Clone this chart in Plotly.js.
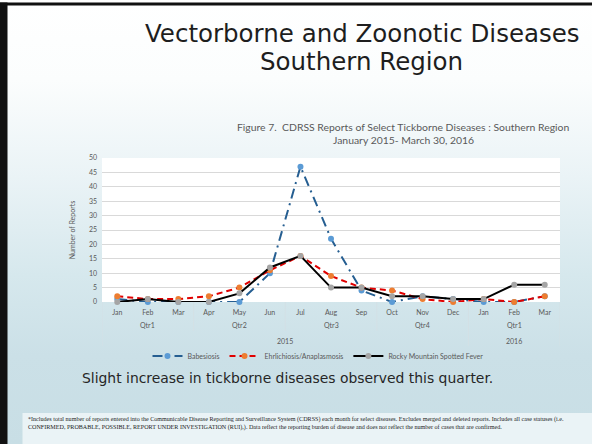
<!DOCTYPE html>
<html>
<head>
<meta charset="utf-8">
<script src="https://cdn.plot.ly/plotly-3.0.1.min.js"></script>
<style>
  html, body { margin: 0; padding: 0; }
  body {
    width: 592px; height: 444px; overflow: hidden;
    background: linear-gradient(to bottom, #ffffff 0%, #fbfdfd 18%, #eaf3f6 40%, #d6e8ed 62%, #cbe0e7 80%, #c8dee5 100%);
  }
  #chart { width: 592px; height: 444px; }
</style>
</head>
<body>
<div id="chart"></div>
<script>
// ---- data ----
const months = ['Jan','Feb','Mar','Apr','May','Jun','Jul','Aug','Sep','Oct','Nov','Dec','Jan','Feb','Mar'];
const quarters = ['Qtr1','Qtr2','Qtr3','Qtr4','Qtr1'];
const quarterStart = [0, 3, 6, 9, 12];
const years = ['2015','2016'];
const yearStart = [0, 12];
const yearEnd = [11, 14];
const babesiosis   = [1, 0, 0, 0, 0, 10, 47, 22, 4, 0, 2, 1, 0, 0, 2];
const ehrlichiosis = [2, 1, 1, 2, 5, 11, 16, 9, 5, 4, 1, 0, 1, 0, 2];
const rmsf         = [0, 1, 0, 0, 3, 12, 16, 5, 5, 2, 2, 1, 1, 6, 6];
const seriesNames = ['Babesiosis', 'Ehrlichiosis/Anaplasmosis', 'Rocky Mountain Spotted Fever'];
const yTicks = [0, 5, 10, 15, 20, 25, 30, 35, 40, 45, 50];

// ---- layout helpers (plot area in pixels) ----
const L = 102, R = 560, T = 158, B = 302;
const px = x => (x - L) / (R - L);
const py = y => (B - y) / (B - T);

const idx = months.map((_, i) => i);
const chartFont = 'Lato, sans-serif';

const traces = [
  {
    x: idx, y: babesiosis, name: seriesNames[0], type: 'scatter', mode: 'lines+markers',
    line: { color: '#255e91', width: 2, dash: '10px,5px,2px,5px' },
    marker: { color: '#5b9bd5', size: 6 }, cliponaxis: false
  },
  {
    x: idx, y: ehrlichiosis, name: seriesNames[1], type: 'scatter', mode: 'lines+markers',
    line: { color: '#e00000', width: 2, dash: '6px,4px' },
    marker: { color: '#ed7d31', size: 6 }, cliponaxis: false
  },
  {
    x: idx, y: rmsf, name: seriesNames[2], type: 'scatter', mode: 'lines+markers',
    line: { color: '#000000', width: 2 },
    marker: { color: '#a5a5a5', size: 6 }, cliponaxis: false
  }
];

const shapes = [];
const annotations = [];
const divColor = '#d3e0e5';

// quarter dividers
const qBounds = quarterStart.map(s => s - 0.5).concat([months.length - 0.5]);
qBounds.forEach(b => {
  shapes.push({ type: 'line', xref: 'x', yref: 'paper', x0: b, x1: b, y0: 0, y1: py(331),
    line: { color: divColor, width: 1 } });
});
// year dividers (extend further)
const yBounds = yearStart.map(s => s - 0.5).concat([months.length - 0.5]);
yBounds.forEach(b => {
  shapes.push({ type: 'line', xref: 'x', yref: 'paper', x0: b, x1: b, y0: py(331), y1: py(346),
    line: { color: divColor, width: 1 } });
});

// quarter labels
quarters.forEach((q, i) => {
  annotations.push({ xref: 'x', yref: 'paper', x: quarterStart[i] + 1, y: py(325), text: q,
    showarrow: false, xanchor: 'center', yanchor: 'middle',
    font: { family: chartFont, size: 7, color: '#595959' } });
});
// year labels
years.forEach((yv, i) => {
  annotations.push({ xref: 'x', yref: 'paper', x: (yearStart[i] + yearEnd[i]) / 2, y: py(341), text: yv,
    showarrow: false, xanchor: 'center', yanchor: 'middle',
    font: { family: chartFont, size: 7, color: '#595959' } });
});

// slide frame
shapes.push({ type: 'rect', xref: 'paper', yref: 'paper', x0: px(0), x1: px(592), y0: py(2.5), y1: py(5.5),
  fillcolor: '#111111', line: { width: 0 }, layer: 'above' });
shapes.push({ type: 'rect', xref: 'paper', yref: 'paper', x0: px(0), x1: px(7.5), y0: py(2.5), y1: py(444),
  fillcolor: '#111111', line: { width: 0 }, layer: 'above' });
// footnote box
shapes.push({ type: 'rect', xref: 'paper', yref: 'paper', x0: px(22.5), x1: px(592), y0: py(413), y1: py(444),
  fillcolor: '#eaf3f6', line: { width: 0 }, layer: 'below' });

// slide title
annotations.push({ xref: 'paper', yref: 'paper', x: px(362), y: py(33), text: 'Vectorborne and Zoonotic Diseases',
  showarrow: false, xanchor: 'center', yanchor: 'middle',
  font: { family: 'DejaVu Sans, sans-serif', size: 24.5, color: '#1e1e1e' } });
annotations.push({ xref: 'paper', yref: 'paper', x: px(361), y: py(61), text: 'Southern Region',
  showarrow: false, xanchor: 'center', yanchor: 'middle',
  font: { family: 'DejaVu Sans, sans-serif', size: 24.5, color: '#1e1e1e' } });

// chart title
annotations.push({ xref: 'paper', yref: 'paper', x: px(403), y: py(127),
  text: 'Figure 7.  CDRSS Reports of Select Tickborne Diseases : Southern Region',
  showarrow: false, xanchor: 'center', yanchor: 'middle',
  font: { family: chartFont, size: 10.4, color: '#595959' } });
annotations.push({ xref: 'paper', yref: 'paper', x: px(403), y: py(139.5),
  text: 'January 2015- March 30, 2016',
  showarrow: false, xanchor: 'center', yanchor: 'middle',
  font: { family: chartFont, size: 10.4, color: '#595959' } });

// remark
annotations.push({ xref: 'paper', yref: 'paper', x: px(80), y: py(378),
  text: 'Slight increase in tickborne diseases observed this quarter.',
  showarrow: false, xanchor: 'left', yanchor: 'middle',
  font: { family: 'DejaVu Sans, sans-serif', size: 13.9, color: '#262626' } });

// footnote
annotations.push({ xref: 'paper', yref: 'paper', x: px(26), y: py(419),
  text: '*Includes total number of reports entered into the Communicable Disease Reporting and Surveillance System (CDRSS) each month for select diseases. Excludes merged and deleted reports. Includes all case statuses (i.e.',
  showarrow: false, xanchor: 'left', yanchor: 'middle',
  font: { family: 'Liberation Serif, serif', size: 6.1, color: '#222222' } });
annotations.push({ xref: 'paper', yref: 'paper', x: px(26), y: py(427),
  text: 'CONFIRMED, PROBABLE, POSSIBLE, REPORT UNDER INVESTIGATION (RUI),). Data reflect the reporting burden of disease and does not reflect the number of cases that are confirmed.',
  showarrow: false, xanchor: 'left', yanchor: 'middle',
  font: { family: 'Liberation Serif, serif', size: 6.1, color: '#222222' } });

const layout = {
  width: 592, height: 444,
  margin: { l: L, r: 592 - R, t: T, b: 444 - B, pad: 0 },
  paper_bgcolor: 'rgba(0,0,0,0)',
  plot_bgcolor: '#ffffff',
  showlegend: true,
  legend: {
    orientation: 'h', x: px(318), xanchor: 'center', y: py(356), yanchor: 'middle',
    font: { family: chartFont, size: 7, color: '#595959' },
    bgcolor: 'rgba(0,0,0,0)', tracegroupgap: 0
  },
  xaxis: {
    range: [-0.5, months.length - 0.5],
    tickvals: idx, ticktext: months,
    showgrid: false, zeroline: false, showline: false, ticks: '',
    ticklabelstandoff: 5,
    tickfont: { family: chartFont, size: 7, color: '#595959' },
    fixedrange: true
  },
  yaxis: {
    range: [0, 50],
    tickvals: yTicks,
    showgrid: true, gridcolor: '#d9d9d9', gridwidth: 1,
    zeroline: false, showline: false, ticks: '',
    ticklabelstandoff: 4,
    tickfont: { family: chartFont, size: 7, color: '#595959' },
    title: { text: 'Number of Reports', standoff: 12,
      font: { family: chartFont, size: 7, color: '#595959' } },
    automargin: false,
    fixedrange: true
  },
  shapes: shapes,
  annotations: annotations
};

Plotly.newPlot('chart', traces, layout, { displayModeBar: false, staticPlot: true });
</script>
</body>
</html>
